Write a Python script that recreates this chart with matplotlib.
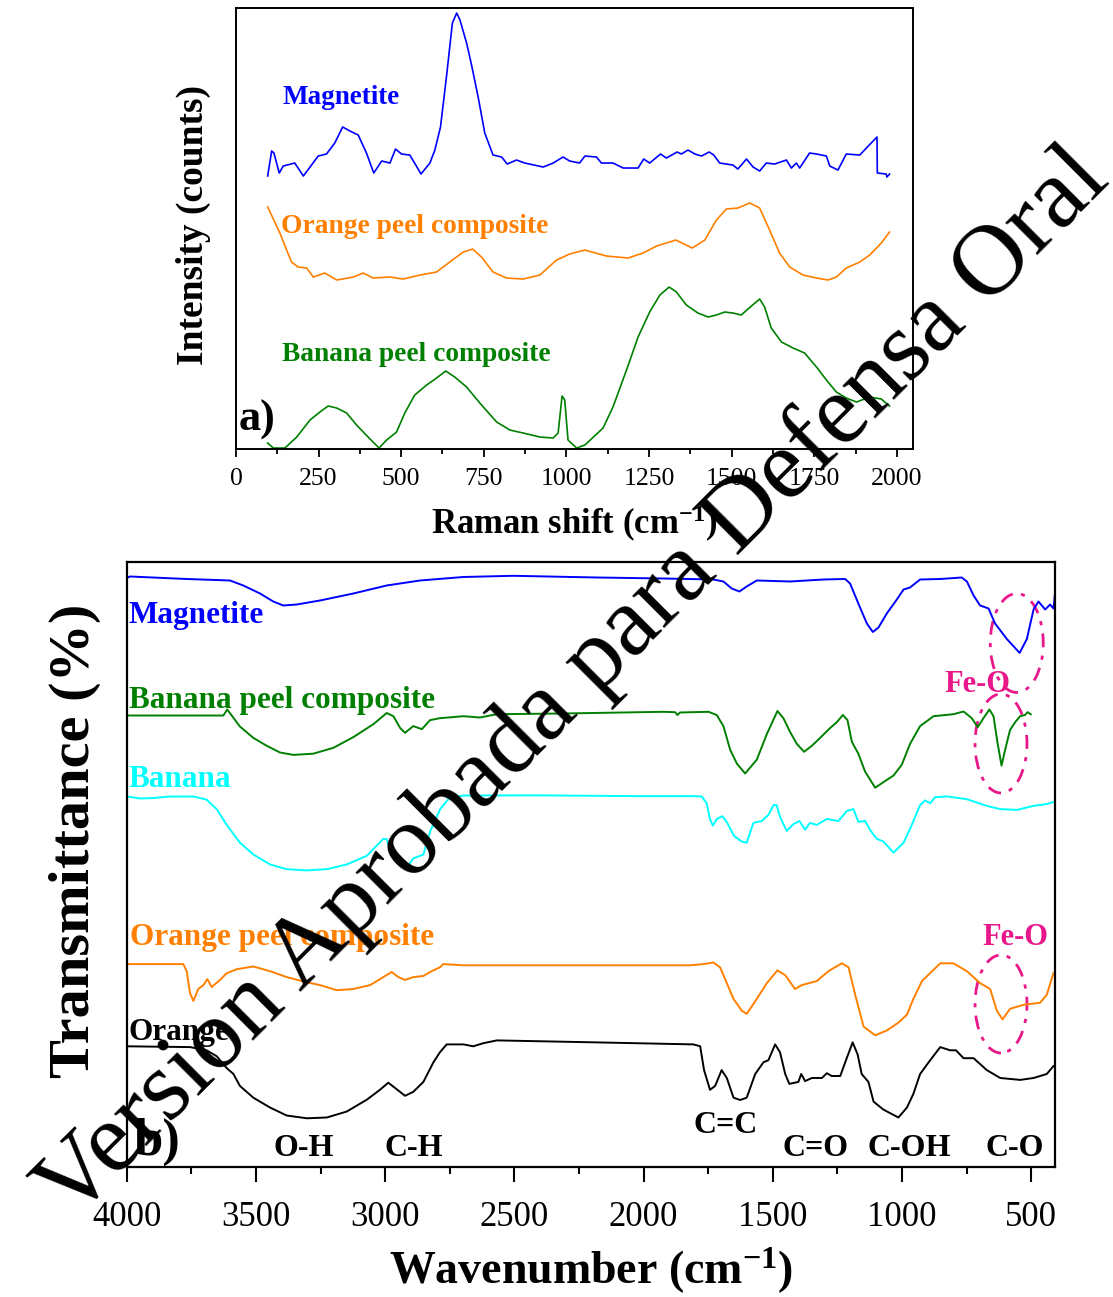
import matplotlib
matplotlib.use("Agg")
import matplotlib.pyplot as plt
from matplotlib.patches import Ellipse
from matplotlib.ticker import MultipleLocator

plt.rcParams['font.family'] = ['Liberation Serif', 'DejaVu Serif']
plt.rcParams['mathtext.fontset'] = 'custom'
plt.rcParams['mathtext.rm'] = 'Liberation Serif'
plt.rcParams['mathtext.bf'] = 'Liberation Serif:bold'
plt.rcParams['mathtext.default'] = 'bf'

# ---------------- Raman data (a) ----------------
raman_magnetite_x = [96,108,115,131,143,178,204,249,274,299,323,345,370,395,417,441,466,483,501,526,
                     546,560,587,602,619,637,655,668,678,698,713,733,753,778,804,821,849,874,930,960,
                     990,1010,1040,1056,1091,1106,1141,1172,1217,1234,1252,1285,1303,1335,1348,1368,1389,1409,1432,1446,
                     1464,1504,1519,1545,1565,1585,1605,1630,1666,1681,1696,1706,1736,1757,1787,1797,1822,1847,1888,1908,
                     1940,1941,1968,1970,1978]
raman_magnetite_y = [273,298,296,276,283,286,273,293,295,306,322,318,314,296,276,288,286,300,295,294,
                     283,275,286,299,322,372,426,436,429,406,384,352,316,294,292,285,289,286,282,286,
                     292,288,286,293,292,286,286,281,281,290,286,295,291,297,295,299,295,293,297,294,
                     286,284,280,290,282,278,286,285,289,281,286,281,296,295,293,283,279,295,294,301,
                     312,276,275,272,275]

raman_orange_x = [96,133,168,188,214,234,269,305,355,385,415,466,506,557,607,647,688,716,743,778,
                  819,869,920,970,1010,1056,1121,1187,1232,1273,1331,1381,1419,1454,1484,1519,1555,1585,1615,1645,
                  1676,1716,1757,1792,1817,1847,1888,1918,1953,1978]
raman_orange_y = [242,216,187,182,181,172,176,169,172,176,171,172,170,174,177,187,197,200,192,177,
                  171,170,174,189,195,199,193,191,196,203,209,201,209,229,240,241,246,241,219,196,
                  182,174,171,169,172,181,187,194,206,217]

raman_banana_x = [96,113,148,184,224,254,279,305,335,365,400,433,456,486,511,541,577,607,635,662,
                  698,738,789,829,869,920,960,975,987,995,1005,1031,1056,1111,1141,1182,1217,1252,1283,1311,
                  1333,1363,1398,1429,1454,1479,1504,1529,1560,1585,1600,1620,1651,1686,1721,1757,1787,1817,1847,1878,
                  1918,1953,1978]
raman_banana_y = [6,1,1,12,29,37,43,41,36,24,12,1,9,17,36,54,64,71,78,72,
                  62,46,27,19,16,12,11,16,53,49,9,1,4,21,42,79,112,137,154,162,
                  157,144,136,132,134,137,136,134,143,150,142,121,107,101,96,82,69,57,51,47,
                  52,50,43]

raman_ticks = [0, 250, 500, 750, 1000, 1250, 1500, 1750, 2000]

# ---------------- FTIR data (b) ----------------
ftir_magnetite_x = [3998,3987,3768,3600,3549,3484,3433,3394,3342,3252,3123,2994,2865,2697,2504,2181,1923,1730,1691,1659,
                    1629,1601,1562,1433,1304,1220,1201,1169,1136,1113,1091,1059,1020,994,969,930,852,769,749,723,
                    698,665,640,594,545,517,491,472,446,427,414,408]
ftir_magnetite_y = [589.7,591,588.5,587,582,574,566,562,563,567,574,582,587,590.5,591.7,590,589,588,586,579,
                    576,581,587,586,588,588.5,584,564,544,535.5,540,554,568,578,580,588,588.5,590,586,572,
                    562,559,544,528.4,514.6,528.4,558,566,558,563,559,574]

ftir_banana_comp_x = [3998,3626,3611,3562,3510,3458,3407,3355,3278,3200,3123,3045,2994,2968,2942,2923,2891,2858,2826,2788,
                      2697,2633,2568,2310,1923,1878,1869,1859,1749,1717,1691,1665,1639,1607,1562,1523,1482,1459,1433,1407,
                      1379,1349,1317,1278,1252,1229,1211,1194,1169,1143,1104,1072,1033,1001,969,930,878,801,762,730,
                      707,685,662,646,631,615,601,582,562,543,524,514,502]
ftir_banana_comp_y = [452,452,458,441,429.6,421.7,415,412.6,413.8,419.7,430.4,443.4,454.5,451.3,439.5,434.7,441.4,438.3,447.4,449.3,
                      451.3,450,453.3,454,455.7,455.3,452.5,455,455.7,452.5,441.4,417.7,403.9,394,407.8,433.5,456.5,449.3,435.5,423.6,
                      415.7,421.7,429.6,439.5,445.4,452.5,447.4,425.6,413.8,396,379.8,385.3,392,402.7,423.6,441.4,451.3,453.3,456,449.3,
                      440.3,449.3,458,451.3,425.6,401.9,417.7,437.5,445.4,451.3,452.5,455.3,453.3]

ftir_banana_x = [3998,3949,3897,3832,3742,3691,3652,3613,3562,3510,3445,3381,3303,3226,3149,3071,3007,2994,2975,2949,
                 2919,2891,2852,2826,2787,2749,2697,2439,2052,1807,1775,1756,1743,1732,1717,1695,1676,1650,1620,1601,
                 1575,1543,1517,1497,1485,1472,1446,1420,1397,1375,1356,1330,1291,1246,1214,1188,1169,1143,1121,1098,
                 1072,1033,994,969,930,911,891,872,827,749,672,620,556,491,440,414]
ftir_banana_y = [371,369,369.5,371,371,367.9,358.4,342.6,324.8,313,303,298.3,297.1,298.3,303,311.7,328.7,328.3,313,307,
                 299.1,309,313,336,358.4,370.3,371.9,372.2,371.4,371.4,371,364.3,348.5,341.8,348.5,351.3,344.6,331.5,326,324.8,
                 344.6,346.5,352.5,362.4,362.4,350.5,336.6,343.4,346.5,337.8,344.6,342.6,348.5,346.5,356.4,358.4,345.7,346.5,336.6,328.7,
                 326,314.9,324.8,338.6,362.4,367.1,364.3,370.3,371.1,368.3,361.6,358.4,357.6,361.6,363.5,365.5]

ftir_orange_comp_x = [3998,3781,3768,3755,3742,3723,3703,3688,3671,3639,3613,3574,3510,3445,3381,3303,3252,3187,3123,3058,
                      3007,2975,2949,2923,2891,2852,2820,2788,2775,2697,2310,1820,1768,1730,1704,1678,1652,1620,1601,1562,
                      1523,1482,1452,1414,1388,1330,1285,1233,1207,1181,1149,1104,1059,1014,981,956,923,852,801,749,
                      698,659,633,611,582,530,466,440,414]
ftir_orange_comp_y = [203.4,203.4,196.3,174.5,166.6,178.5,182.4,188.4,180.5,187.6,194.3,198.3,201,196.3,190.4,185.2,182.4,177.3,178.5,182.4,
                      190.4,195.5,190.4,187.6,190.4,191.5,196.3,200.2,203.4,202.2,202.2,202.2,203.4,205,200.2,184.4,168.6,156.8,153.6,168.6,
                      184.4,197.1,192.3,178.5,182.4,186.4,196.3,204.2,200.2,172.6,141,132.2,137,144.9,152.8,168.6,186.4,204.2,204.2,196.3,
                      184.4,178.5,156.8,148.1,158.7,162.7,164.7,172.6,194.3]

ftir_orange_x = [3998,3755,3691,3652,3613,3587,3562,3510,3445,3381,3303,3226,3149,3071,3020,2988,2962,2923,2891,2852,
                 2813,2788,2762,2697,2659,2620,2568,2181,1807,1781,1766,1743,1723,1698,1678,1652,1626,1601,1568,1536,
                 1517,1491,1472,1452,1436,1401,1390,1375,1349,1310,1291,1272,1239,1214,1191,1172,1156,1130,1110,1072,
                 1014,981,956,930,891,852,814,791,762,723,672,620,543,491,440,414]
ftir_orange_y = [121.2,120.4,117.2,111.3,99.4,93.5,81.6,69.8,59.9,52,49.2,50,55.9,67.8,77.7,84.8,79.6,71.7,75.7,85.6,
                 105.3,115.2,123.1,123.1,121.2,124.3,127.1,125.1,123.1,121.2,97.4,77.7,81.6,97.4,89.5,69.8,67.5,69.8,93.5,105.3,
                 107.3,123.1,115.2,93.5,83.6,85.6,93.5,86.4,89.5,89.5,94.3,91.5,91.5,109.3,125.1,113.2,93.5,85.6,65.8,57.9,
                 50,59.9,73.7,93.5,107.3,120.4,117.2,117.2,109.3,109.3,97.4,89.5,87.6,89.5,93.5,101.4]

ftir_ticks = [4000, 3500, 3000, 2500, 2000, 1500, 1000, 500]
band_labels = ["O-H", "C-H", "C=C", "C=O", "C-OH", "C-O"]
band_positions = [3314, 2888, 1681, 1334, 972, 562]
band_heights = [11.5, 11.5, 34, 11.5, 11.5, 11.5]
feo_positions = [(556, 524.5), (617, 424), (617, 163.5)]

BLUE = '#0000FF'
ORANGE = '#FF8000'
GREEN = '#008000'
CYAN = '#00FFFF'
PINK = '#E8188A'

fig = plt.figure(figsize=(11.13, 12.97), dpi=100)

# ---------- panel a ----------
ax1 = fig.add_axes([0.2120, 0.6538, 0.6083, 0.3404])
ax1.plot(raman_magnetite_x, raman_magnetite_y, color=BLUE, lw=1.2)
ax1.plot(raman_orange_x, raman_orange_y, color=ORANGE, lw=1.2)
ax1.plot(raman_banana_x, raman_banana_y, color=GREEN, lw=1.2)
ax1.set_xlim(0, 2049)
ax1.set_ylim(0, 441.5)
ax1.set_xticks(raman_ticks)
ax1.set_xticklabels([str(t) for t in raman_ticks])
ax1.xaxis.set_minor_locator(MultipleLocator(125))
ax1.set_yticks([])
ax1.tick_params(axis='x', which='major', direction='out', length=5.8, width=1.3, pad=8, labelsize=18.5)
ax1.tick_params(axis='x', which='minor', direction='out', length=3.6, width=1.3)
for s in ax1.spines.values():
    s.set_linewidth(1.4)
ax1.set_xlabel('Raman shift (cm$^{-1}$)', fontsize=25, fontweight='bold')
ax1.xaxis.set_label_coords(0.499, -0.124)
ax1.xaxis.label.set_va('top')
ax1.set_ylabel('Intensity (counts)', fontsize=27, fontweight='bold')
ax1.yaxis.label.set_va('baseline')
ax1.yaxis.set_label_coords(-0.0487, 0.5074)
ax1.text(142, 345, 'Magnetite', color=BLUE, fontsize=19.5, fontweight='bold', ha='left', va='baseline')
ax1.text(136, 215.7, 'Orange peel composite', color=ORANGE, fontsize=19.8, fontweight='bold', ha='left', va='baseline')
ax1.text(140, 88, 'Banana peel composite', color=GREEN, fontsize=19.8, fontweight='bold', ha='left', va='baseline')
ax1.text(9, 19, 'a)', color='black', fontsize=32, fontweight='bold', ha='left', va='baseline')

# ---------- panel b ----------
ax2 = fig.add_axes([0.11384, 0.09985, 0.83406, 0.46646])
ax2.plot(ftir_magnetite_x, ftir_magnetite_y, color=BLUE, lw=1.4)
ax2.plot(ftir_banana_comp_x, ftir_banana_comp_y, color=GREEN, lw=1.4)
ax2.plot(ftir_banana_x, ftir_banana_y, color=CYAN, lw=1.4)
ax2.plot(ftir_orange_comp_x, ftir_orange_comp_y, color=ORANGE, lw=1.4)
ax2.plot(ftir_orange_x, ftir_orange_y, color='black', lw=1.4)
ax2.set_xlim(4000, 408)
ax2.set_ylim(0, 605)
ax2.set_xticks(ftir_ticks)
ax2.set_xticklabels([str(t) for t in ftir_ticks])
ax2.xaxis.set_minor_locator(MultipleLocator(250))
ax2.set_yticks([])
ax2.tick_params(axis='x', which='major', direction='out', length=10.8, width=1.5, pad=13, labelsize=25)
ax2.tick_params(axis='x', which='minor', direction='out', length=5, width=1.5)
for s in ax2.spines.values():
    s.set_linewidth(1.6)
ax2.set_xlabel('Wavenumber (cm$^{-1}$)', fontsize=33, fontweight='bold')
ax2.xaxis.label.set_va('baseline')
ax2.xaxis.set_label_coords(0.5002, -0.1930)
ax2.set_ylabel('Transmittance (%)', fontsize=42, fontweight='bold')
ax2.yaxis.label.set_va('baseline')
ax2.yaxis.set_label_coords(-0.0406, 0.5397)

lbl_kw = dict(fontsize=22.5, fontweight='bold', ha='left', va='baseline')
ax2.text(3993, 544.5, 'Magnetite', color=BLUE, **lbl_kw)
ax2.text(3993, 459.5, 'Banana peel composite', color=GREEN, **lbl_kw)
ax2.text(3993, 380.5, 'Banana', color=CYAN, **lbl_kw)
ax2.text(3987, 222, 'Orange peel composite', color=ORANGE, **lbl_kw)
ax2.text(3993, 127.5, 'Orange', color='black', **lbl_kw)
ax2.text(3975, 12.5, 'b)', color='black', fontsize=38, fontweight='bold', ha='left', va='baseline')

for name, xpos, ypos in zip(band_labels, band_positions, band_heights):
    ax2.text(xpos, ypos, name, color='black', fontsize=23, fontweight='bold', ha='center', va='baseline')

ax2.text(710, 475, 'Fe-O', color=PINK, fontsize=22, fontweight='bold', ha='center', va='baseline')
ax2.text(562, 222, 'Fe-O', color=PINK, fontsize=22, fontweight='bold', ha='center', va='baseline')

ell_sizes = [(205, 99), (201, 99), (201, 98)]
for (cx, cy), (w, h) in zip(feo_positions, ell_sizes):
    ax2.add_patch(Ellipse((cx, cy), w, h, fill=False, edgecolor=PINK, lw=2.0,
                          linestyle=(0, (5, 3, 1.5, 3))))

# ---------- watermark ----------
fig.text(0.5310, 0.4585, 'Version Aprobada para Defensa Oral', rotation=45, rotation_mode='anchor',
         ha='center', va='baseline', fontsize=72, color='black', zorder=10)

fig.savefig('out.png', dpi=100)
